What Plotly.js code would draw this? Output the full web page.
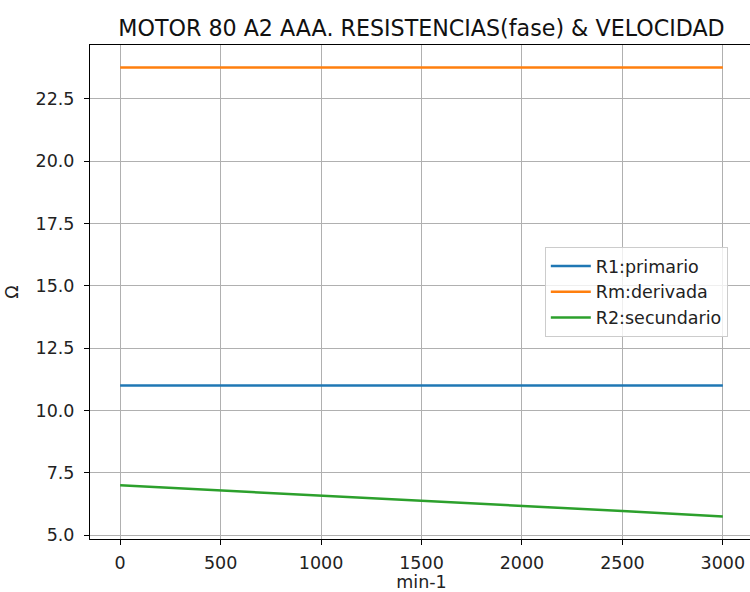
<!DOCTYPE html>
<html>
<head>
<meta charset="utf-8">
<script src="https://cdn.plot.ly/plotly-3.0.1.min.js"></script>
<style>html,body{margin:0;padding:0;overflow:hidden;background:#fff;}</style>
</head>
<body>
<div id="chart"></div>
<script>
const speed = [0, 500, 1000, 1500, 2000, 2500, 3000];
const r1 = [11.0, 11.0, 11.0, 11.0, 11.0, 11.0, 11.0];
const rm = [23.75, 23.75, 23.75, 23.75, 23.75, 23.75, 23.75];
const r2 = [7.0, 6.8, 6.6, 6.39, 6.18, 5.97, 5.75];
const names = ['R1:primario', 'Rm:derivada', 'R2:secundario'];
const colors = ['#1f77b4', '#ff7f0e', '#2ca02c'];
const series = [r1, rm, r2];

const traces = series.map((s, i) => ({
  x: speed, y: s, name: names[i], type: 'scatter', mode: 'lines',
  line: {color: colors[i], width: 2.5}
}));

const font = {family: 'DejaVu Sans, sans-serif', size: 17.5, color: '#222'};
const layout = {
  width: 760, height: 592,
  margin: {l: 90, r: 7, t: 45, b: 53},
  paper_bgcolor: '#fff', plot_bgcolor: '#fff',
  font: font,
  showlegend: true,
  title: {text: 'MOTOR 80 A2 AAA. RESISTENCIAS(fase) & VELOCIDAD', font: {family: 'DejaVu Sans, sans-serif', size: 22.2, color: '#111'}, x: 0.5, xref: 'paper', xanchor: 'center', y: 1, yref: 'paper', yanchor: 'bottom', pad: {b: 9}},
  xaxis: {
    range: [-150, 3150], tick0: 0, dtick: 500,
    showgrid: true, gridcolor: '#b0b0b0', gridwidth: 1,
    showline: true, linecolor: '#000', linewidth: 1, mirror: true,
    ticks: 'outside', ticklen: 5, tickcolor: '#000', ticklabelstandoff: 3,
    zeroline: false,
    title: {text: 'min-1', font: font, standoff: 5}
  },
  yaxis: {
    range: [4.85, 24.65], tick0: 5, dtick: 2.5, tickformat: '.1f',
    showgrid: true, gridcolor: '#b0b0b0', gridwidth: 1,
    showline: true, linecolor: '#000', linewidth: 1, mirror: true,
    ticks: 'outside', ticklen: 5, tickcolor: '#000', ticklabelstandoff: 6,
    zeroline: false,
    title: {text: 'Ω', font: font, standoff: 12}
  },
  legend: {
    x: 0.686, y: 0.591, xanchor: 'left', yanchor: 'top',
    bgcolor: 'rgba(255,255,255,0.8)', bordercolor: '#cccccc', borderwidth: 1,
    font: font, tracegroupgap: 0, itemwidth: 40
  }
};

Plotly.newPlot('chart', traces, layout, {displayModeBar: false, staticPlot: true});
</script>
</body>
</html>
